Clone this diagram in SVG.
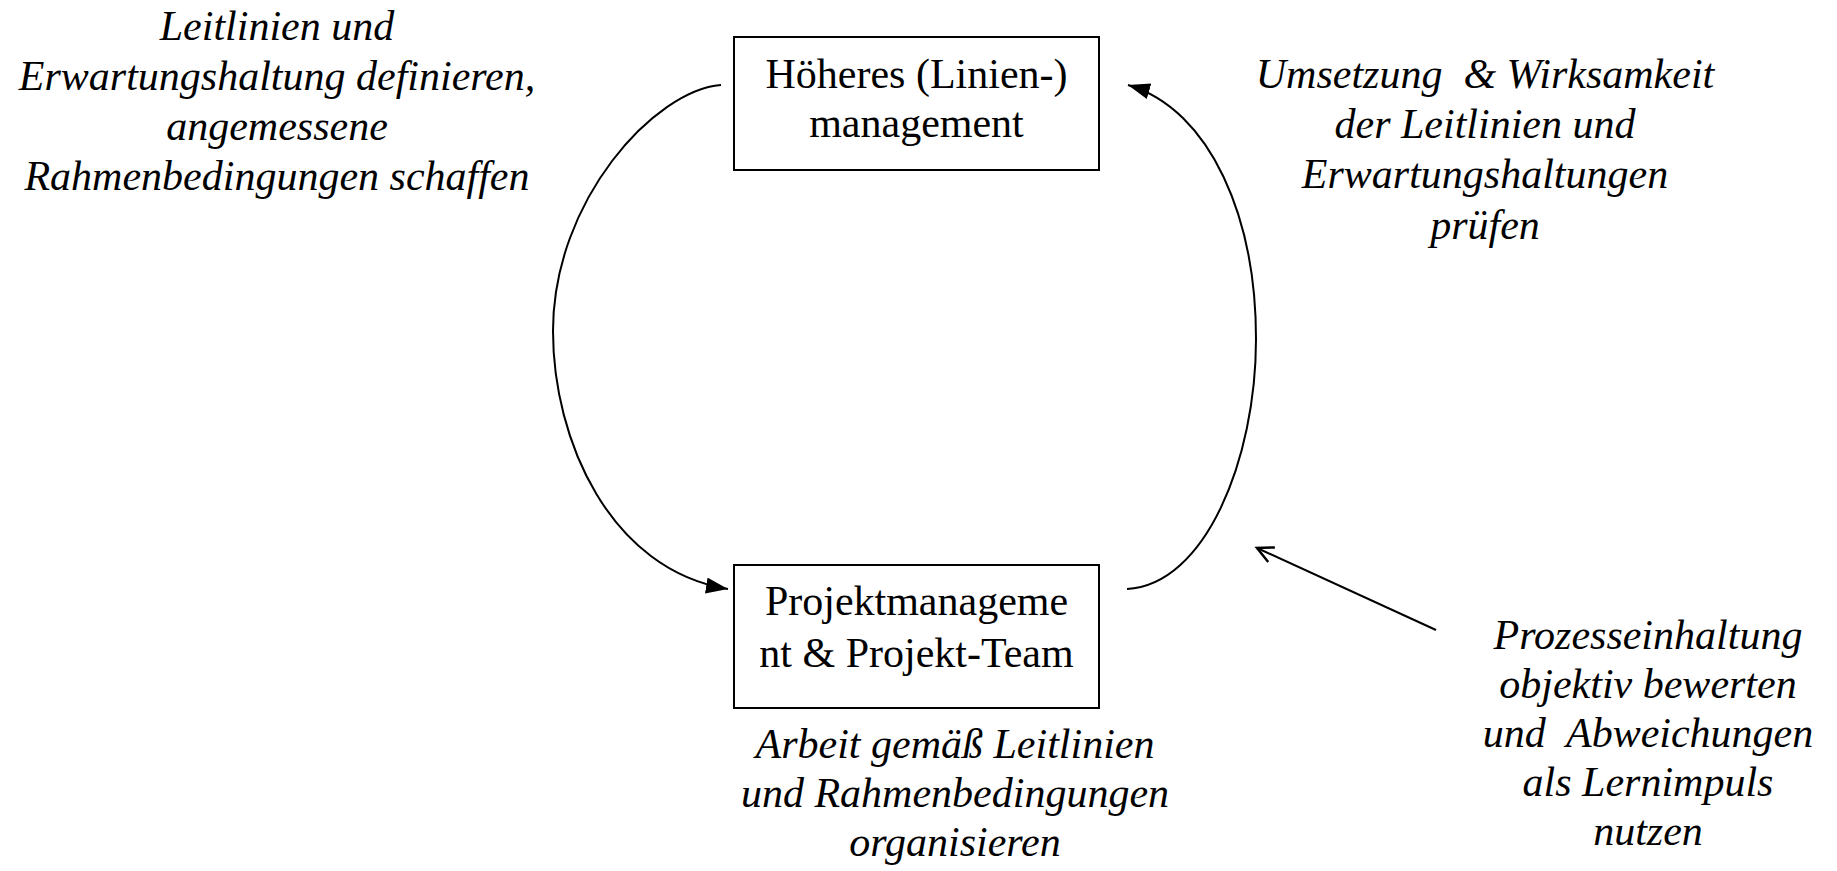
<svg xmlns="http://www.w3.org/2000/svg" width="1837" height="871" viewBox="0 0 1837 871">
<style>
.box{fill:#fff;stroke:#000;stroke-width:2}
.t{font-family:"Liberation Serif","Times New Roman",serif;font-size:42px;fill:#000;text-anchor:middle}
.i{font-style:italic;white-space:pre}
.c{fill:none;stroke:#000;stroke-width:2}
</style>
<defs>
<marker id="ah" markerUnits="userSpaceOnUse" markerWidth="24" markerHeight="18" refX="22" refY="8" orient="auto">
<path d="M0,0 L22,8 L0,16 Z" fill="#000"/>
</marker>
<marker id="oa" markerUnits="userSpaceOnUse" markerWidth="24" markerHeight="24" refX="20" refY="10" orient="auto">
<path d="M4,2 L20,10 L4,18" fill="none" stroke="#000" stroke-width="2.5"/>
</marker>
</defs>
<rect width="1837" height="871" fill="#fff"/>
<g id="connectors">
<path class="c" d="M721,85 C655,90 553,200 553,331 C553,440 610,570 728,589" marker-end="url(#ah)"/>
<path class="c" d="M1127,589 C1205,585 1256,460 1256,339 C1256,220 1212,110 1128,85" marker-end="url(#ah)"/>
<path class="c" d="M1436,630 L1257,548" marker-end="url(#oa)"/>
</g>
<g id="node-top">
<rect class="box" x="734" y="37" width="365" height="133"/>
<text class="t" x="916.5" y="88">Höheres (Linien-)</text>
<text class="t" x="916.5" y="137">management</text>
</g>
<g id="node-bottom">
<rect class="box" x="734" y="565" width="365" height="143"/>
<text class="t" x="916.5" y="615">Projektmanageme</text>
<text class="t" x="916.5" y="667">nt &amp; Projekt-Team</text>
</g>
<g id="label-left">
<text class="t i" x="277" y="40">Leitlinien und</text>
<text class="t i" x="277" y="90">Erwartungshaltung definieren,</text>
<text class="t i" x="277" y="140">angemessene</text>
<text class="t i" x="277" y="190">Rahmenbedingungen schaffen</text>
</g>
<g id="label-right-top">
<text class="t i" x="1485" y="88">Umsetzung  &amp; Wirksamkeit</text>
<text class="t i" x="1485" y="138">der Leitlinien und</text>
<text class="t i" x="1485" y="188">Erwartungshaltungen</text>
<text class="t i" x="1485" y="239">prüfen</text>
</g>
<g id="label-bottom">
<text class="t i" x="955" y="758">Arbeit gemäß Leitlinien</text>
<text class="t i" x="955" y="807">und Rahmenbedingungen</text>
<text class="t i" x="955" y="856">organisieren</text>
</g>
<g id="label-right-bottom">
<text class="t i" x="1648" y="649">Prozesseinhaltung</text>
<text class="t i" x="1648" y="698">objektiv bewerten</text>
<text class="t i" x="1648" y="747">und  Abweichungen</text>
<text class="t i" x="1648" y="796">als Lernimpuls</text>
<text class="t i" x="1648" y="845">nutzen</text>
</g>
</svg>
